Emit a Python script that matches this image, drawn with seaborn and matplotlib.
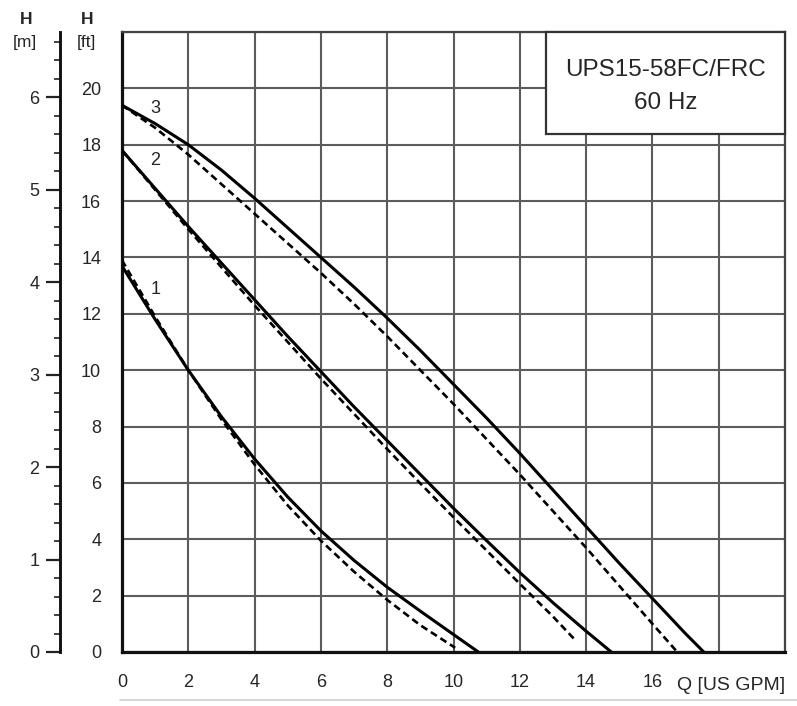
import matplotlib
matplotlib.use("Agg")
import matplotlib.pyplot as plt
import matplotlib.patches as patches
from matplotlib.ticker import MultipleLocator, FixedLocator, FixedFormatter
import seaborn as sns

# ---- data (Q in US GPM, H in ft) ----
q1_solid = [0, 1, 2, 3, 4, 5, 6, 7, 8, 9, 10, 10.75]
h1_solid = [13.7, 11.8, 10.0, 8.35, 6.85, 5.5, 4.3, 3.25, 2.3, 1.45, 0.62, 0.0]
q1_dash = [0, 1, 2, 3, 4, 5, 6, 7, 8, 9, 10.05]
h1_dash = [13.9, 11.9, 10.0, 8.25, 6.65, 5.2, 3.95, 2.85, 1.85, 0.95, 0.15]

q2_solid = [0, 1, 2, 3, 4, 5, 6, 7, 8, 9, 10, 11, 12, 13, 14, 14.76]
h2_solid = [17.8, 16.45, 15.1, 13.8, 12.5, 11.2, 9.95, 8.7, 7.5, 6.3, 5.1, 3.95, 2.82, 1.75, 0.74, 0.0]
q2_dash = [0, 1, 2, 3, 4, 5, 6, 7, 8, 9, 10, 11, 12, 13, 13.65]
h2_dash = [17.8, 16.4, 15.0, 13.65, 12.3, 11.0, 9.7, 8.45, 7.2, 5.98, 4.78, 3.6, 2.42, 1.26, 0.45]

q3_solid = [0, 1, 2, 3, 4, 5, 6, 7, 8, 9, 10, 11, 12, 13, 14, 15, 16, 17, 17.55]
h3_solid = [19.4, 18.75, 18.0, 17.1, 16.1, 15.05, 14.0, 12.95, 11.85, 10.7, 9.5, 8.3, 7.05, 5.75, 4.45, 3.15, 1.9, 0.65, 0.0]
q3_dash = [0, 1, 2, 3, 4, 5, 6, 7, 8, 9, 10, 11, 12, 13, 14, 15, 16, 16.75]
h3_dash = [19.4, 18.6, 17.65, 16.6, 15.55, 14.5, 13.45, 12.35, 11.2, 10.0, 8.8, 7.55, 6.3, 5.0, 3.7, 2.35, 1.0, 0.0]

curve_labels = ["1", "2", "3"]
curve_label_pos = [(1.0, 12.85), (1.0, 17.45), (1.0, 19.3)]

x_ticks = [0, 2, 4, 6, 8, 10, 12, 14, 16, 18, 20]
x_ticklabels = ["0", "2", "4", "6", "8", "10", "12", "14", "16", "", ""]
ft_ticks = [0, 2, 4, 6, 8, 10, 12, 14, 16, 18, 20, 22]
ft_ticklabels = ["0", "2", "4", "6", "8", "10", "12", "14", "16", "18", "20", ""]
m_ticks = [0, 1, 2, 3, 4, 5, 6]
m_ticklabels = ["0", "1", "2", "3", "4", "5", "6"]

title_lines = ["UPS15-58FC/FRC", "60 Hz"]
FT_PER_M = 3.28084

# ---- style ----
sns.set_theme(style="white")
plt.rcParams["font.family"] = ["Liberation Sans", "DejaVu Sans"]
TXT = "#262626"

W, H = 797, 706
fig = plt.figure(figsize=(W / 100, H / 100), dpi=100)
ax = fig.add_axes([122 / W, 54 / H, 663 / W, 620 / H])
ax.set_facecolor("white")

ax.set_xlim(0, 20)
ax.set_ylim(0, 22)

# grid
ax.xaxis.set_major_locator(FixedLocator(x_ticks))
ax.xaxis.set_major_formatter(FixedFormatter(x_ticklabels))
ax.xaxis.set_minor_locator(MultipleLocator(0.5))
ax.yaxis.set_major_locator(FixedLocator(ft_ticks))
ax.yaxis.set_major_formatter(FixedFormatter(ft_ticklabels))
ax.yaxis.set_minor_locator(MultipleLocator(0.4))
ax.grid(which="major", color="#5c5c5c", linewidth=1.5, zorder=0)
ax.set_axisbelow(True)

ax.tick_params(axis="both", which="major", direction="out", length=10, width=1.6,
               color="#222222", labelsize=13, labelcolor=TXT, pad=5)
ax.tick_params(axis="both", which="minor", direction="out", length=4.5, width=1.3,
               color="#333333")
ax.tick_params(axis="x", which="major", pad=6)

for side in ["left", "bottom"]:
    ax.spines[side].set_color("#111111")
    ax.spines[side].set_linewidth(2.3)
for side in ["top", "right"]:
    ax.spines[side].set_color("#444444")
    ax.spines[side].set_linewidth(1.6)
    ax.spines[side].set_visible(True)

# curves
solid_kw = dict(color="black", linewidth=2.2, sort=False, estimator=None, zorder=4)
dash_kw = dict(color="black", linewidth=1.9, sort=False, estimator=None, zorder=4)
for qs, hs in [(q1_solid, h1_solid), (q2_solid, h2_solid), (q3_solid, h3_solid)]:
    sns.lineplot(x=qs, y=hs, ax=ax, **solid_kw)
for qd, hd in [(q1_dash, h1_dash), (q2_dash, h2_dash), (q3_dash, h3_dash)]:
    line = sns.lineplot(x=qd, y=hd, ax=ax, **dash_kw).lines[-1]
    line.set_linestyle((0, (2.7, 1.6)))
ax.set_xlabel("")
ax.set_ylabel("")

for lab, (lx, ly) in zip(curve_labels, curve_label_pos):
    ax.text(lx, ly, lab, fontsize=13, color=TXT, ha="center", va="center", zorder=5)

# title box
box = patches.Rectangle((424 / 663, 518 / 620), 239 / 663, 102 / 620,
                        transform=ax.transAxes, facecolor="white",
                        edgecolor="#333333", linewidth=1.6, zorder=5, clip_on=False)
ax.add_patch(box)
ax.text(0.8195, 0.9387, title_lines[0], transform=ax.transAxes, fontsize=17.5,
        color=TXT, ha="center", va="center", zorder=6)
ax.text(0.8195, 0.8855, title_lines[1], transform=ax.transAxes, fontsize=17.5,
        color=TXT, ha="center", va="center", zorder=6)

# metre axis
sec = ax.secondary_yaxis(-62 / 663, functions=(lambda f: f / FT_PER_M, lambda m: m * FT_PER_M))
sec.yaxis.set_major_locator(FixedLocator(m_ticks))
sec.yaxis.set_major_formatter(FixedFormatter(m_ticklabels))
sec.yaxis.set_minor_locator(MultipleLocator(0.2))
sec.tick_params(axis="y", which="major", direction="out", length=10, width=1.6,
                color="#222222", labelsize=13, labelcolor=TXT, pad=5)
sec.tick_params(axis="y", which="minor", direction="out", length=4.5, width=1.3,
                color="#333333")
sec.spines["left"].set_color("#111111")
sec.spines["left"].set_linewidth(2.1)

# axis titles
fig.text(26 / W, 1 - 20 / H, "H", fontsize=12.5, color=TXT, ha="center", va="center", weight="bold")
fig.text(25 / W, 1 - 43 / H, "[m]", fontsize=12.5, color=TXT, ha="center", va="center")
fig.text(87 / W, 1 - 20 / H, "H", fontsize=12.5, color=TXT, ha="center", va="center", weight="bold")
fig.text(86 / W, 1 - 43 / H, "[ft]", fontsize=12.5, color=TXT, ha="center", va="center")
fig.text(677 / W, 1 - 686 / H, "Q [US GPM]", fontsize=14, color=TXT, ha="left", va="center")

# faint bottom line
fig.add_artist(plt.Line2D([120 / W, 1.0], [1 - 700 / H, 1 - 700 / H],
                          transform=fig.transFigure, color="#d0d0d0", linewidth=1.2))

fig.savefig("out.png", dpi=100, facecolor="white")
